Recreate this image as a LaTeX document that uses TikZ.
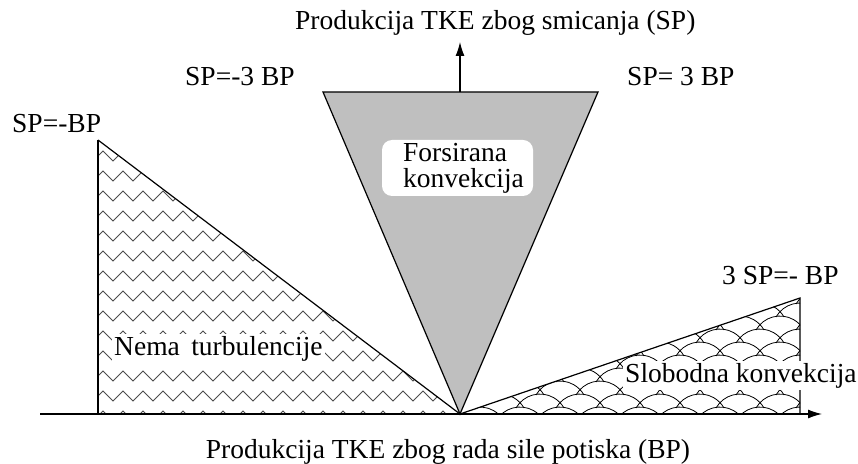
\documentclass[tikz,border=0pt]{standalone}
\usepackage{fontspec}
\setmainfont{Liberation Serif}
\usetikzlibrary{arrows.meta,decorations.pathmorphing}

\begin{document}
\begin{tikzpicture}[x=1pt,y=1pt,
    lbl/.style={font=\fontsize{27.5}{30}\selectfont, inner sep=0pt},
    axis/.style={line width=1.2pt,-{Latex[length=14pt,width=9pt]}},
    edge/.style={line width=1.2pt},
    wave/.style={draw=black!70,line width=0.8pt,decorate,decoration={zigzag,segment length=20pt,amplitude=5pt}},
    fishscale/.style={line width=0.8pt}]
  \useasboundingbox (0,0) rectangle (858,463);

  % corners of the regions
  \coordinate (O) at (460,49);
  \coordinate (xs) at (40,49);
  \coordinate (xe) at (822,49);
  \coordinate (nt) at (98,323);
  \coordinate (nb) at (98,49);
  \coordinate (fl) at (323,371);
  \coordinate (fr) at (598,371);
  \coordinate (ft) at (460,371);
  \coordinate (ye) at (460,421);
  \coordinate (st) at (800,165);
  \coordinate (sb) at (800,49);

  % nema turbulencije
  \begin{scope}
    \clip (nt) -- (nb) -- (O) -- cycle;
    \foreach \y in {47,67,...,327}
      \draw[wave] (98,\y) -- (470,\y);
  \end{scope}
  \draw[edge] (nt) -- (nb);
  \draw[edge] (nt) -- (O);

  % slobodna konvekcija
  \begin{scope}
    \clip (O) -- (st) -- (sb) -- cycle;
    \foreach \j in {0,...,10}
      \foreach \i in {0,...,9}
        \draw[fishscale] ({440+40*\i+20*mod(\j,2)-24},{42+13*\j}) arc (150.4:29.6:27.6);
  \end{scope}
  \draw[edge] (O) -- (st) -- (sb);

  % forsirana konvekcija
  \draw[edge,fill=gray!50] (fl) -- (fr) -- (O) -- cycle;
  \node[fill=white,rounded corners=10pt,minimum width=151pt,minimum height=56pt,inner sep=0pt]
    (forced) at (457.5,295) {};
  \node[lbl,anchor=base west] (forced1) at (403,301) {Forsirana};
  \node[lbl,anchor=base west] (forced2) at (403,275) {konvekcija};

  % axes
  \draw[axis] (xs) -- (xe);
  \draw[axis] (ft) -- (ye);
  \node[lbl,anchor=base west] (sp) at (295,433) {Produkcija TKE zbog smicanja (SP)};
  \node[lbl,anchor=base] (bp) at (448,5) {Produkcija TKE zbog rada sile potiska (BP)};

  % boundaries
  \node[lbl,anchor=base west] (b1) at (12,330) {SP=-BP};
  \node[lbl,anchor=base west] (b2) at (185,377) {SP=-3 BP};
  \node[lbl,anchor=base west] (b3) at (627,377) {SP= 3 BP};
  \node[lbl,anchor=base west] (b4) at (722,178) {3 SP=- BP};

  \node[lbl,anchor=base west,fill=white,inner sep=2pt] (none) at (112,108) {Nema\, turbulencije};
  \node[lbl,anchor=base west,fill=white,inner sep=2pt] (free) at (623,81) {Slobodna konvekcija};
\end{tikzpicture}
\end{document}
